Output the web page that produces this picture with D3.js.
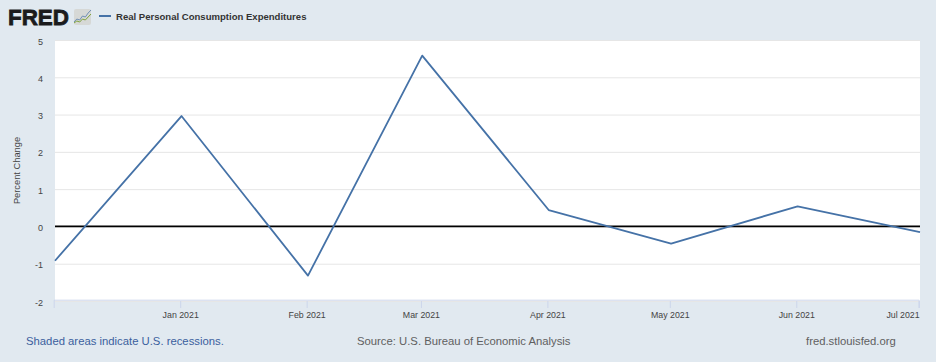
<!DOCTYPE html>
<html>
<head>
<meta charset="utf-8">
<script src="https://cdn.jsdelivr.net/npm/d3@7"></script>
<style>
    html, body { margin: 0; padding: 0; background: #e1e9f0; overflow: hidden; }
    svg { display: block; font-family: "Liberation Sans", Arial, sans-serif; }
</style>
</head>
<body>
<div id="chart"></div>
<script>
// monthly values
const months = ["2020-12-01", "2021-01-01", "2021-02-01", "2021-03-01", "2021-04-01", "2021-05-01", "2021-06-01", "2021-07-01"];
const values = [-0.92, 2.96, -1.32, 4.58, 0.44, -0.46, 0.54, -0.15];
const yTicks = [-2, -1, 0, 1, 2, 3, 4, 5];
const xTicks = ["2021-01-01", "2021-02-01", "2021-03-01", "2021-04-01", "2021-05-01", "2021-06-01", "2021-07-01"];
const sparkBlue = [2, 5, 4, 8, 7, 11, 14];
const sparkGreen = [1, 3, 2, 5, 4, 7, 10];

const width = 936, height = 362;
const margin = { top: 40, right: 16, bottom: 61, left: 55 };
const parseDate = d3.utcParse("%Y-%m-%d");

const svg = d3.select("#chart").append("svg")
    .attr("width", width)
    .attr("height", height);

const x = d3.scaleUtc()
    .domain([parseDate(months[0]), parseDate(months[months.length - 1])])
    .range([margin.left, width - margin.right]);

const y = d3.scaleLinear()
    .domain([-2, 5])
    .range([height - margin.bottom, margin.top]);

// plot background
svg.append("rect")
    .attr("x", margin.left)
    .attr("y", margin.top)
    .attr("width", width - margin.left - margin.right)
    .attr("height", height - margin.top - margin.bottom)
    .attr("fill", "#ffffff");

// grid lines + y labels
const yAxis = svg.append("g")
    .attr("transform", `translate(${margin.left},0)`)
    .call(d3.axisLeft(y).tickValues(yTicks).tickSize(-(width - margin.left - margin.right)).tickPadding(12).tickFormat(d => String(d)));
yAxis.select(".domain").remove();
yAxis.selectAll("line").attr("stroke", "#e6e6e6");
yAxis.selectAll("text").attr("fill", "#444444").style("font-size", "9px").attr("dy", "0.45em");

// x axis, the ticks sit about a pixel left of the data points
const xAxis = svg.append("g")
    .attr("transform", `translate(0,${height - margin.bottom})`)
    .call(d3.axisBottom(x).tickValues(xTicks.map(parseDate)).tickSize(7).offset(-0.8).tickPadding(4).tickFormat(d3.utcFormat("%b %Y")));
xAxis.select(".domain").attr("stroke", "#ccd6eb");
xAxis.selectAll("line").attr("stroke", "#ccd6eb");
xAxis.selectAll("text").attr("fill", "#444444").style("font-size", "8.8px");
xAxis.selectAll(".tick:last-child text").attr("text-anchor", "end").attr("dx", "0.05em");

// zero line
svg.append("line")
    .attr("x1", margin.left)
    .attr("x2", width - margin.right)
    .attr("y1", y(0))
    .attr("y2", y(0))
    .attr("stroke", "#000000")
    .attr("stroke-width", 1.8);

// series
const line = d3.line()
    .x((d, i) => x(parseDate(months[i])))
    .y(d => y(d));

svg.append("path")
    .datum(values)
    .attr("d", line)
    .attr("fill", "none")
    .attr("stroke", "#4572a7")
    .attr("stroke-width", 1.8)
    .attr("stroke-linejoin", "round");

// y title
svg.append("text")
    .attr("transform", `translate(19.5,${(margin.top + height - margin.bottom) / 2}) rotate(-90)`)
    .attr("text-anchor", "middle")
    .attr("fill", "#444444")
    .style("font-size", "9.3px")
    .text("Percent Change");

// header: logo text, spark icon, legend
svg.append("text")
    .attr("x", 8)
    .attr("y", 24.5)
    .attr("fill", "#1b1b1d")
    .style("font-size", "22.5px")
    .style("font-weight", "700")
    .style("stroke", "#1b1b1d")
    .style("stroke-width", "0.8px")
    .attr("textLength", 61)
    .attr("lengthAdjust", "spacingAndGlyphs")
    .text("FRED");

svg.append("rect")
    .attr("x", 74)
    .attr("y", 9)
    .attr("width", 17)
    .attr("height", 16)
    .attr("rx", 2)
    .attr("fill", "#d6d8d6");

const sparkX = d3.scaleLinear().domain([0, sparkBlue.length - 1]).range([74, 91]);
const sparkY = d3.scaleLinear().domain([0, 15]).range([24, 9]);
const sparkLine = d3.line().x((d, i) => sparkX(i)).y(d => sparkY(d));
svg.append("path").datum(sparkBlue).attr("d", sparkLine).attr("fill", "none").attr("stroke", "#6f8fb5").attr("stroke-width", 1);
svg.append("path").datum(sparkGreen).attr("d", sparkLine).attr("fill", "none").attr("stroke", "#7fa33c").attr("stroke-width", 1);

svg.append("line")
    .attr("x1", 99)
    .attr("x2", 111)
    .attr("y1", 16)
    .attr("y2", 16)
    .attr("stroke", "#4572a7")
    .attr("stroke-width", 2);

svg.append("text")
    .attr("x", 116)
    .attr("y", 19.5)
    .attr("fill", "#333333")
    .style("font-size", "9.55px")
    .style("font-weight", "700")
    .text("Real Personal Consumption Expenditures");

// footer
svg.append("text")
    .attr("x", 26)
    .attr("y", 345)
    .attr("fill", "#3b5f9e")
    .style("font-size", "11.3px")
    .text("Shaded areas indicate U.S. recessions.");

svg.append("text")
    .attr("x", 357)
    .attr("y", 345)
    .attr("fill", "#606060")
    .style("font-size", "11.3px")
    .text("Source: U.S. Bureau of Economic Analysis");

svg.append("text")
    .attr("x", 806)
    .attr("y", 345)
    .attr("fill", "#606060")
    .style("font-size", "11.3px")
    .text("fred.stlouisfed.org");
</script>
</body>
</html>
